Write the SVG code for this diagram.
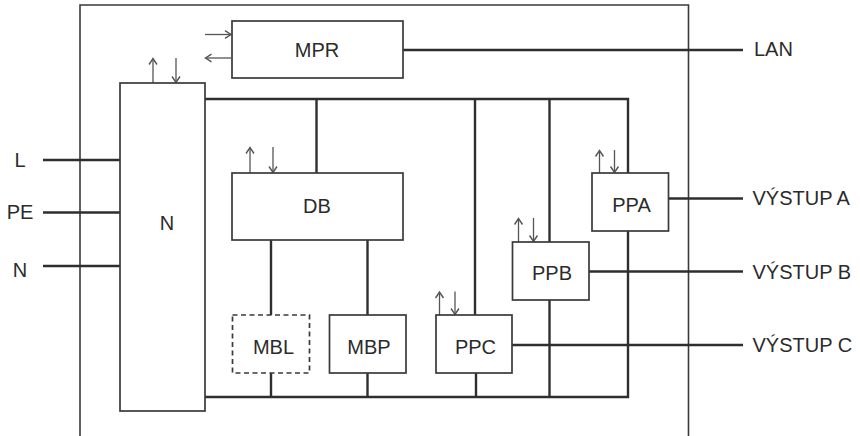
<svg xmlns="http://www.w3.org/2000/svg" width="860" height="436" viewBox="0 0 860 436">
  <style>
    .frame { fill: none; stroke: #3a3a3a; stroke-width: 1.6; }
    .box { fill: #ffffff; stroke: #3a3a3a; stroke-width: 1.7; }
    .dashed { stroke-dasharray: 5 3.5; }
    .bus { fill: none; stroke: #2e2e2e; stroke-width: 2.4; }
    .sig { fill: none; stroke: #555555; stroke-width: 1.3; marker-end: url(#head); }
    .lbl { font-family: "Liberation Sans", Arial, sans-serif; font-size: 20px; fill: #2b2b2b; }
    .mid { text-anchor: middle; }
  </style>
  <defs>
    <marker id="head" markerUnits="userSpaceOnUse" markerWidth="12" markerHeight="12" refX="0" refY="0" viewBox="-6 -5 8 10" orient="auto">
      <path d="M-5,-3.3 L0,0 L-5,3.3" fill="none" stroke="#555555" stroke-width="1.2"/>
    </marker>
  </defs>

  <g id="enclosure">
    <path class="frame" d="M80,440 V5 H688.5 V440"/>
  </g>

  <g id="connectors">
    <!-- inputs -->
    <path class="bus" d="M43,160 H120"/>
    <path class="bus" d="M43,212.5 H120"/>
    <path class="bus" d="M43,266 H120"/>
    <!-- outputs -->
    <path class="bus" d="M403,50 H743"/>
    <path class="bus" d="M668.5,198.5 H743"/>
    <path class="bus" d="M589,271.5 H743"/>
    <path class="bus" d="M512,345 H743"/>
    <!-- internal buses -->
    <path class="bus" d="M205,99 H628 V173"/>
    <path class="bus" d="M316.5,99 V173"/>
    <path class="bus" d="M475,99 V315"/>
    <path class="bus" d="M549.5,99 V242"/>
    <path class="bus" d="M628,231 V397 H205"/>
    <path class="bus" d="M549.5,300 V397"/>
    <path class="bus" d="M271,240 V315"/>
    <path class="bus" d="M367.5,240 V315"/>
    <path class="bus" d="M271,373 V397"/>
    <path class="bus" d="M367.5,373 V397"/>
    <path class="bus" d="M476,373 V397"/>
    <!-- signal arrows -->
    <path class="sig" d="M205,34.5 H231"/>
    <path class="sig" d="M231,58 H205.5"/>
    <path class="sig" d="M153,83 V58.5"/>
    <path class="sig" d="M176,58 V82.5"/>
    <path class="sig" d="M250,173 V147.5"/>
    <path class="sig" d="M273,147 V172.5"/>
    <path class="sig" d="M439.5,315 V292"/>
    <path class="sig" d="M455,291.5 V314.5"/>
    <path class="sig" d="M518.5,242 V218.5"/>
    <path class="sig" d="M533.5,218 V241.5"/>
    <path class="sig" d="M599.5,173 V150.5"/>
    <path class="sig" d="M614.5,150 V172.5"/>
  </g>

  <g id="MPR">
    <rect class="box" x="232" y="21" width="171" height="57"/>
    <text class="lbl mid" x="317" y="56.5">MPR</text>
  </g>
  <g id="N">
    <rect class="box" x="120" y="83" width="85" height="328"/>
    <text class="lbl mid" x="167" y="230">N</text>
  </g>
  <g id="DB">
    <rect class="box" x="232" y="173" width="171" height="67"/>
    <text class="lbl mid" x="317" y="213">DB</text>
  </g>
  <g id="MBL">
    <rect class="box dashed" x="232.5" y="315" width="77" height="58"/>
    <text class="lbl mid" x="273.5" y="354">MBL</text>
  </g>
  <g id="MBP">
    <rect class="box" x="329.5" y="315" width="76.5" height="58"/>
    <text class="lbl mid" x="369" y="354">MBP</text>
  </g>
  <g id="PPC">
    <rect class="box" x="436" y="315" width="76" height="58"/>
    <text class="lbl mid" x="475.5" y="354">PPC</text>
  </g>
  <g id="PPB">
    <rect class="box" x="512.5" y="242" width="76.5" height="58"/>
    <text class="lbl mid" x="552" y="280">PPB</text>
  </g>
  <g id="PPA">
    <rect class="box" x="592" y="173" width="76.5" height="58"/>
    <text class="lbl mid" x="631.5" y="212">PPA</text>
  </g>

  <g id="in-L"><text class="lbl mid" x="20" y="167">L</text></g>
  <g id="in-PE"><text class="lbl mid" x="20" y="219">PE</text></g>
  <g id="in-N"><text class="lbl mid" x="20" y="277">N</text></g>
  <g id="out-LAN"><text class="lbl" x="754" y="56">LAN</text></g>
  <g id="out-A"><text class="lbl" x="752.5" y="205">VÝSTUP A</text></g>
  <g id="out-B"><text class="lbl" x="752.5" y="278.5">VÝSTUP B</text></g>
  <g id="out-C"><text class="lbl" x="752.5" y="352">VÝSTUP C</text></g>
</svg>
